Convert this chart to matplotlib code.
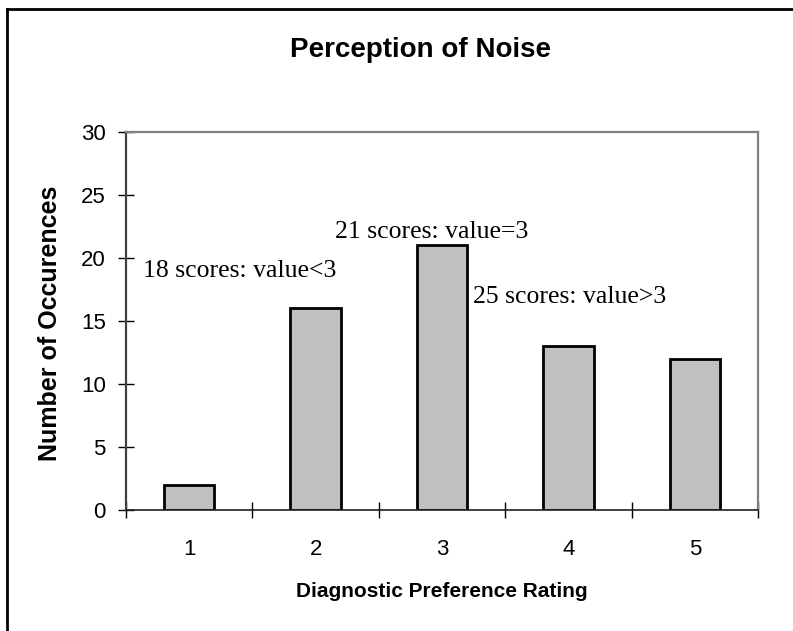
import matplotlib
matplotlib.use("Agg")
import matplotlib.pyplot as plt
from matplotlib.lines import Line2D

# ratings and how often each one was given
ratings = [1, 2, 3, 4, 5]
counts = [2, 16, 21, 13, 12]

# group notes: text, x, y
notes = ["18 scores: value<3", "21 scores: value=3", "25 scores: value>3"]
note_x = [1.40, 2.92, 4.01]
note_y = [19.0, 22.1, 16.9]

fig = plt.figure(figsize=(7.93, 6.31), dpi=100)
ax = fig.add_axes([0.1589, 0.1918, 0.797, 0.599])

ax.bar(ratings, counts, width=0.4, color="#c0c0c0", edgecolor="black", linewidth=2)

ax.set_xlim(0.5, 5.5)
ax.set_ylim(0, 30)

# tick marks sit between the bars, labels under the bars
ax.set_xticks([0.5, 1.5, 2.5, 3.5, 4.5, 5.5])
ax.set_xticklabels([])
ax.set_xticks(ratings, minor=True)
ax.set_xticklabels([str(r) for r in ratings], minor=True, fontsize=16, family="Liberation Sans")
ax.tick_params(axis="x", which="major", direction="inout", length=11, width=1, color="black")
ax.tick_params(axis="x", which="minor", length=0, pad=21)

ax.set_yticks(range(0, 31, 5))
ax.set_yticklabels([str(v) for v in range(0, 31, 5)], fontsize=16, family="Liberation Sans")
ax.tick_params(axis="y", direction="inout", length=11, width=1, color="black", pad=9)

ax.spines["left"].set_color("#404040")
ax.spines["left"].set_linewidth(1.6)
ax.spines["bottom"].set_color("#202020")
ax.spines["bottom"].set_linewidth(1.2)
for side in ["top", "right"]:
    ax.spines[side].set_color("#808080")
    ax.spines[side].set_linewidth(1.6)

for txt, x, y in zip(notes, note_x, note_y):
    ax.text(x, y, txt, ha="center", va="center", fontsize=18.5, family="Liberation Serif")

fig.text(0.53, 0.92, "Perception of Noise", ha="center", va="center",
         fontsize=20, fontweight="bold", family="Liberation Sans")
fig.text(0.557, 0.062, "Diagnostic Preference Rating", ha="center", va="center",
         fontsize=15, fontweight="bold", family="Liberation Sans")
fig.text(0.063, 0.488, "Number of Occurences", ha="center", va="center", rotation=90,
         fontsize=18, fontweight="bold", family="Liberation Sans")

# outer frame along the top and left edges
fig.add_artist(Line2D([0.0088, 1.0], [0.9857, 0.9857], color="black", lw=2, transform=fig.transFigure))
fig.add_artist(Line2D([0.0088, 0.0088], [0.0, 0.9857], color="black", lw=2, transform=fig.transFigure))

fig.savefig("out.png", dpi=100, facecolor="white")
